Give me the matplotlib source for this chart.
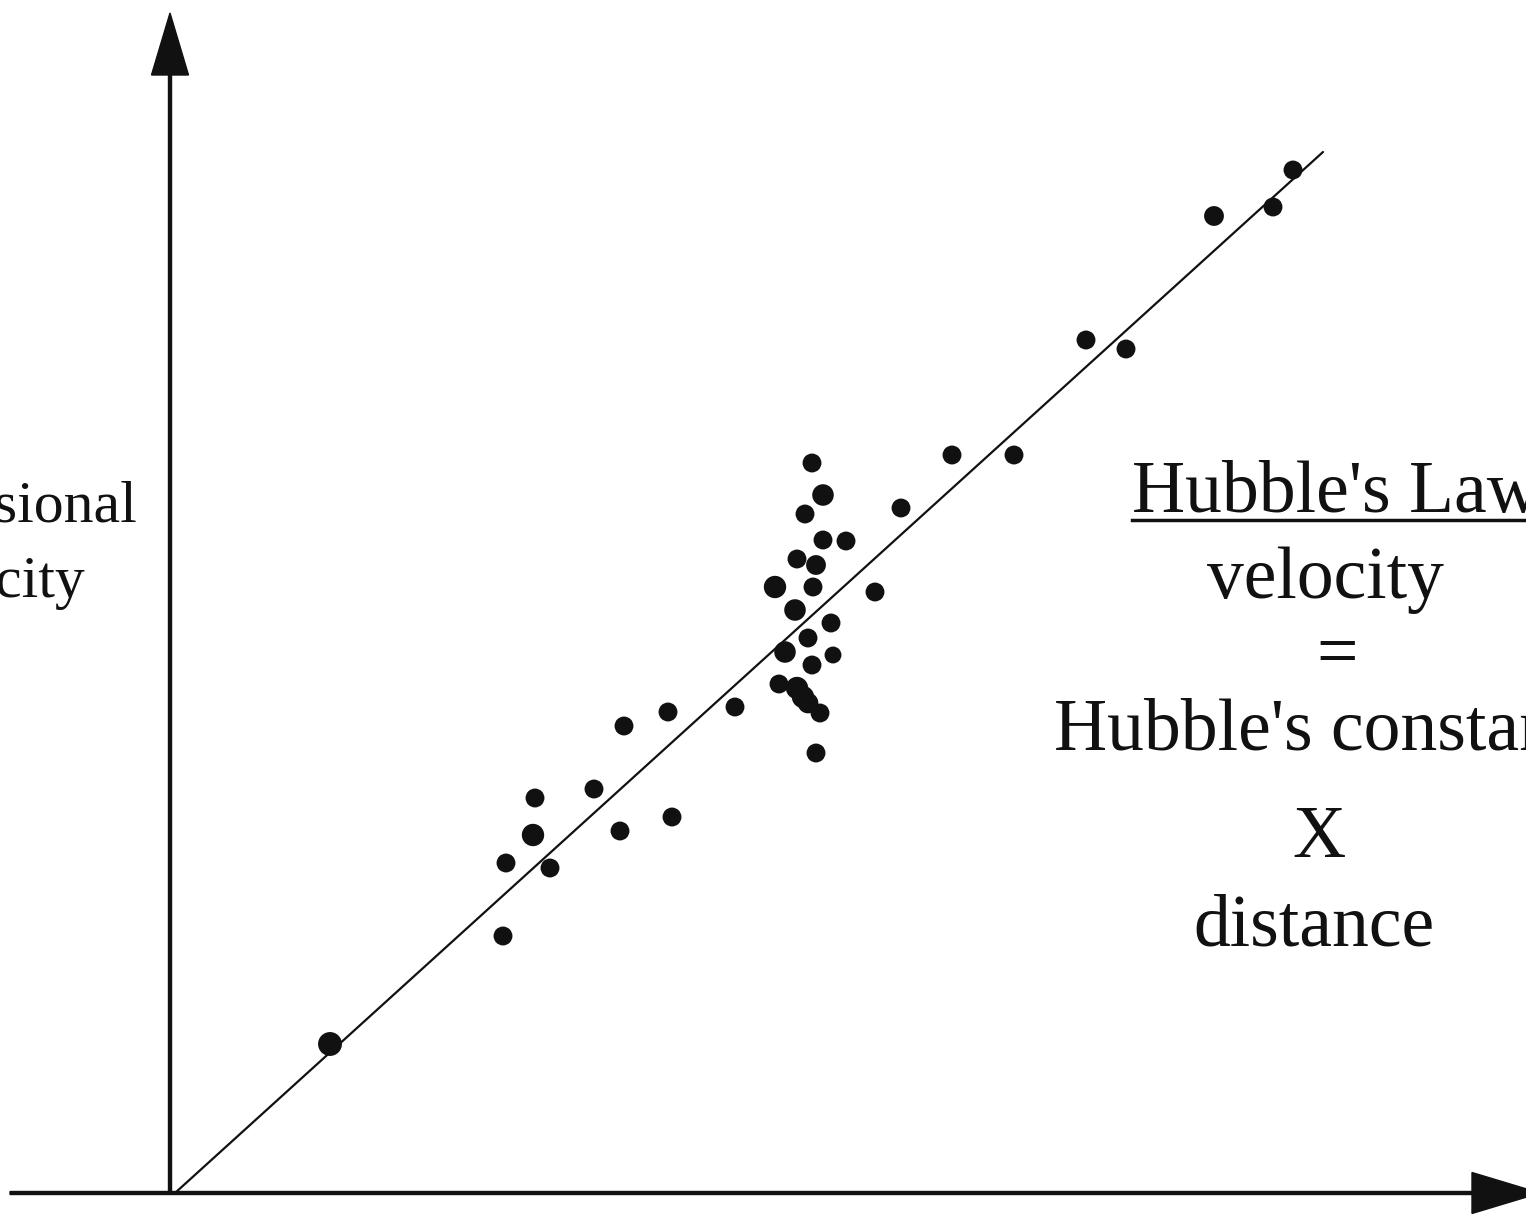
import matplotlib
matplotlib.use("Agg")
import matplotlib.pyplot as plt
import numpy as np

# Galaxy sample: distance (x) and recessional velocity (y), arbitrary units
distance = [1.60, 3.33, 3.36, 3.80, 3.63, 3.65, 4.24, 4.50, 4.54, 4.98,
            5.02, 5.65, 6.09, 6.27, 6.33, 6.38, 6.50, 6.46, 6.42, 6.15,
            6.38, 6.63, 6.61, 6.25, 6.05, 6.43, 6.46, 6.27, 6.53, 6.76,
            6.35, 6.53, 6.42, 7.05, 7.31, 7.82, 8.44, 9.16, 9.56, 10.44,
            11.03, 11.23]
velocity = [1.49, 2.57, 3.30, 3.25, 3.58, 3.95, 4.04, 3.62, 4.67, 4.81,
            3.76, 4.86, 5.09, 5.05, 4.96, 4.90, 4.80, 4.40, 5.28, 5.41,
            5.55, 5.38, 5.70, 5.83, 6.06, 6.06, 6.28, 6.34, 6.53, 6.52,
            6.79, 6.98, 7.30, 6.01, 6.85, 7.38, 7.38, 8.53, 8.44, 9.77,
            9.86, 10.23]
# relative dot size (1 = normal, >1 = heavier dot)
dot_weight = [1.6, 1, 1, 1, 1.4, 1, 1, 1, 1, 1,
              1, 1, 1, 1.4, 1.4, 1.2, 1, 1, 1, 1.3,
              1, 0.8, 1, 1.3, 1.4, 1, 1.1, 1, 1, 1,
              1, 1.3, 1, 1, 1, 1, 1, 1, 1, 1.1,
              1, 1]

# Best-fit line end points
fit_x = [0.05, 11.53]
fit_y = [0.0, 10.41]

title_text = "Hubble's Law"
law_lines = ["velocity", "=", "Hubble's constant", "X", "distance"]
y_label = ["Recessional", "velocity"]

fig = plt.figure(figsize=(15.26, 12.18), dpi=100)
ax = fig.add_axes([0, 0, 1, 1])
ax.set_xlim(-1.70, 13.56)
ax.set_ylim(-0.25, 11.93)
ax.axis("off")

ink = "#111111"
serif = ["Liberation Serif", "DejaVu Serif"]

# Axes drawn as arrows
ax.arrow(0, 0, 0, 11.80, width=0.03, head_width=0.37, head_length=0.62,
         length_includes_head=True, color=ink, clip_on=False)
ax.arrow(-1.60, 0, 15.30, 0, width=0.03, head_width=0.41, head_length=0.68,
         length_includes_head=True, color=ink)

# Fit line
ax.plot(fit_x, fit_y, color=ink, lw=1.6, solid_capstyle="round")

# Data points
base_area = 185
ax.scatter(distance, velocity, s=np.array(dot_weight) * base_area,
           color=ink, edgecolors="none", zorder=3)

# Y axis label (partly off the left edge)
ax.text(-0.33, 6.71, y_label[0], ha="right", va="baseline",
        fontsize=43, family=serif, color=ink)
ax.text(-0.85, 5.96, y_label[1], ha="right", va="baseline",
        fontsize=43, family=serif, color=ink)

# Law text block
fs = 53
ax.text(9.62, 6.81, title_text, ha="left", va="baseline",
        fontsize=fs, family=serif, color=ink)
ax.plot([9.62, 13.56], [6.73, 6.73], color=ink, lw=2.5)
ax.text(11.55, 5.95, law_lines[0], ha="center", va="baseline",
        fontsize=fs, family=serif, color=ink)
ax.text(11.67, 5.36, law_lines[1], ha="center", va="center",
        fontsize=fs, family=serif, color=ink)
ax.text(8.84, 4.43, law_lines[2], ha="left", va="baseline",
        fontsize=fs, family=serif, color=ink)
ax.text(11.49, 3.36, law_lines[3], ha="center", va="baseline",
        fontsize=fs, family=serif, color=ink)
ax.text(11.44, 2.48, law_lines[4], ha="center", va="baseline",
        fontsize=fs, family=serif, color=ink)

fig.savefig("out.png", dpi=100, facecolor="white")
